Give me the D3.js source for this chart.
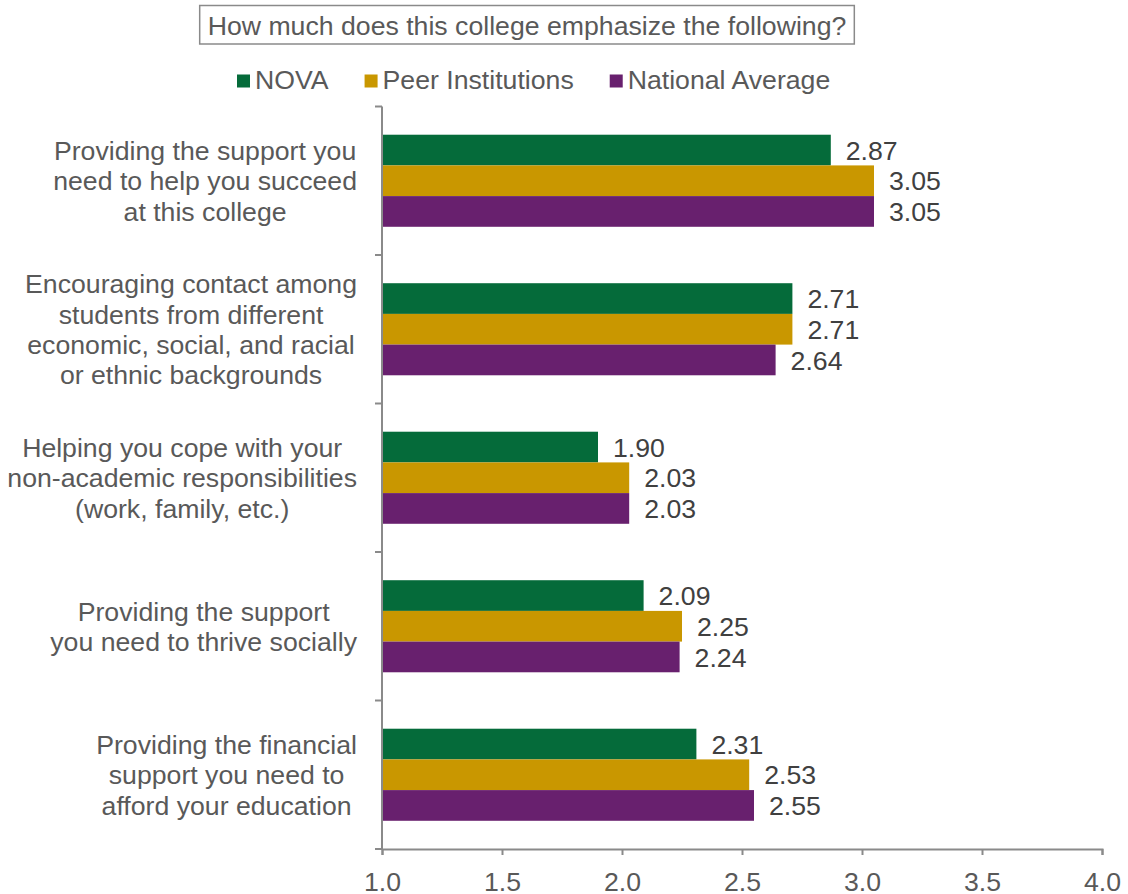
<!DOCTYPE html>
<html>
<head>
<meta charset="utf-8">
<script src="https://cdn.jsdelivr.net/npm/d3@7"></script>
<style>
  html, body { margin: 0; padding: 0; background: #fff; }
  svg { display: block; font-family: "Liberation Sans", Arial, sans-serif; }
</style>
</head>
<body>
<svg id="chart" width="1128" height="894"></svg>
<script>
// Survey items (one group of bars each)
const categories = [
  ["Providing the support you", "need to help you succeed", "at this college"],
  ["Encouraging contact among", "students from different", "economic, social, and racial", "or ethnic backgrounds"],
  ["Helping you cope with your", "non-academic responsibilities", "(work, family, etc.)"],
  ["Providing the support", "you need to thrive socially"],
  ["Providing the financial", "support you need to", "afford your education"]
];
const seriesNames = ["NOVA", "Peer Institutions", "National Average"];
const seriesColors = ["#056B3A", "#C99700", "#68206E"];
const novaValues = [2.87, 2.71, 1.90, 2.09, 2.31];
const peerValues = [3.05, 2.71, 2.03, 2.25, 2.53];
const nationalValues = [3.05, 2.64, 2.03, 2.24, 2.55];
const xTicks = [1.0, 1.5, 2.0, 2.5, 3.0, 3.5, 4.0];
const title = "How much does this college emphasize the following?";

const seriesValues = [novaValues, peerValues, nationalValues];
const catKeys = categories.map((c, i) => "c" + i);

const svg = d3.select("#chart");
const axisColor = "#8a8a8a";
const labelColor = "#595959";
const fs = 26.67;

const x = d3.scaleLinear().domain([1, 4]).range([382, 1102]);
const y0 = d3.scaleBand().domain(catKeys).range([106.5, 849]).padding(0);
const bw = y0.bandwidth();
const y1 = d3.scaleBand().domain(seriesNames).range([bw * 0.19, bw * 0.81]).padding(0);

// Bars and value labels
const groups = svg.append("g").selectAll("g")
  .data(catKeys)
  .join("g")
  .attr("transform", d => `translate(0,${y0(d)})`);

groups.each(function(k, ci) {
  const g = d3.select(this);
  seriesNames.forEach((s, si) => {
    const v = seriesValues[si][ci];
    g.append("rect")
      .attr("x", x(1))
      .attr("y", y1(s))
      .attr("width", x(v) - x(1))
      .attr("height", y1.bandwidth())
      .attr("fill", seriesColors[si]);
    g.append("text")
      .attr("x", x(v) + 15)
      .attr("y", y1(s) + y1.bandwidth() / 2)
      .attr("dy", "0.36em")
      .attr("font-size", fs)
      .attr("fill", "#404040")
      .text(v.toFixed(2));
  });
});

// Category axis (vertical) with boundary ticks
svg.append("line")
  .attr("x1", x(1)).attr("x2", x(1))
  .attr("y1", 106.5).attr("y2", 849)
  .attr("stroke", axisColor).attr("stroke-width", 2);
const boundaries = catKeys.map(k => y0(k)).concat([849]);
svg.append("g").selectAll("line")
  .data(boundaries)
  .join("line")
  .attr("x1", x(1) - 7).attr("x2", x(1))
  .attr("y1", d => d).attr("y2", d => d)
  .attr("stroke", axisColor).attr("stroke-width", 2);

// Value axis (horizontal)
const xAxis = d3.axisBottom(x).tickValues(xTicks).tickFormat(d3.format(".1f")).tickSizeOuter(0).tickSize(6);
const xg = svg.append("g").attr("transform", "translate(0,849)").call(xAxis);
xg.select(".domain").attr("stroke", axisColor).attr("stroke-width", 2);
xg.selectAll(".tick line").attr("stroke", axisColor).attr("stroke-width", 2);
xg.selectAll(".tick text")
  .attr("font-size", fs)
  .attr("font-family", "Liberation Sans, Arial, sans-serif")
  .attr("fill", labelColor)
  .attr("y", 42)
  .attr("dy", 0);

// Category labels: centred lines, block right-aligned against the axis
const lineH = 30.3;
categories.forEach((lines, ci) => {
  const cy = y0(catKeys[ci]) + bw / 2;
  const t = svg.append("text")
    .attr("font-size", fs)
    .attr("fill", labelColor)
    .attr("text-anchor", "middle");
  const spans = lines.map((ln, li) => t.append("tspan")
    .attr("y", cy + (li - (lines.length - 1) / 2) * lineH)
    .attr("dy", "0.36em")
    .text(ln));
  const maxW = d3.max(spans, s => s.node().getComputedTextLength());
  spans.forEach(s => s.attr("x", 357 - maxW / 2));
});

// Title box
const titleBox = svg.append("rect");
const titleText = svg.append("text")
  .attr("x", 527).attr("y", 25).attr("dy", "0.36em")
  .attr("text-anchor", "middle")
  .attr("font-size", fs)
  .attr("fill", labelColor)
  .text(title);
const tw = titleText.node().getComputedTextLength();
titleBox
  .attr("x", 527 - tw / 2 - 8).attr("y", 5.5)
  .attr("width", tw + 16).attr("height", 38.5)
  .attr("fill", "#fff")
  .attr("stroke", "#8a8a8a").attr("stroke-width", 1.5);

// Legend
const legend = svg.append("g");
let lx = 237;
seriesNames.forEach((s, i) => {
  legend.append("rect")
    .attr("x", lx).attr("y", 74.5).attr("width", 13).attr("height", 13)
    .attr("fill", seriesColors[i]);
  const lt = legend.append("text")
    .attr("x", lx + 18).attr("y", 89)
    .attr("font-size", fs).attr("fill", labelColor)
    .text(s);
  lx += 18 + lt.node().getComputedTextLength() + 36;
});
</script>
</body>
</html>
